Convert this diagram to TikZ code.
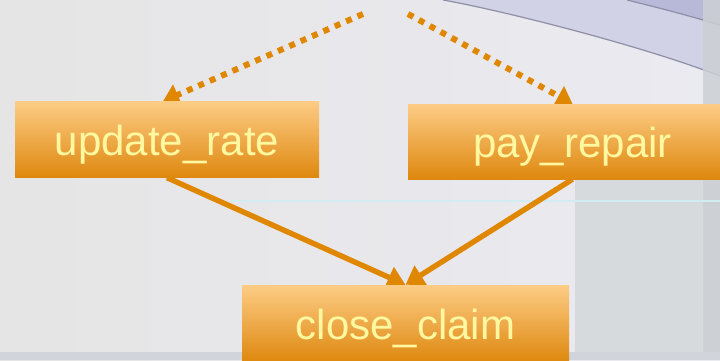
\documentclass[tikz,border=0pt]{standalone}
\usepackage{fontspec}
\setmainfont{Liberation Sans}
\usetikzlibrary{arrows.meta,calc}
\pgfdeclarelayer{bg}
\pgfdeclarelayer{mid}
\pgfsetlayers{bg,mid,main}
\definecolor{arrowc}{HTML}{E08700}
\definecolor{boxtop}{HTML}{FDCC85}
\definecolor{boxbot}{HTML}{DE880E}
\definecolor{txtc}{HTML}{FFF8A0}
\definecolor{bgl}{HTML}{E6E5E5}
\definecolor{bgr}{HTML}{EAEAF1}
\definecolor{lav}{HTML}{D2D2E6}
\definecolor{lavd}{HTML}{B8B8D9}
\definecolor{swline}{HTML}{8E8EA6}
\definecolor{panel}{HTML}{D7DADD}
\definecolor{strip}{HTML}{CCD0D4}
\definecolor{bottomstrip}{HTML}{D2D4DC}
\definecolor{cyanline}{HTML}{D3ECF1}
\tikzset{
  taskbox/.style={rectangle, draw=none, top color=boxtop, bottom color=boxbot,
    text=txtc, font=\fontsize{42}{42}\selectfont, inner sep=0pt,
    text height=43pt, text depth=12pt},
  solidarrow/.style={draw=arrowc, line width=5.4pt,
    -{Triangle[width=22pt,length=18pt]}},
  dotarrow/.style={draw=arrowc, line width=6pt, dash pattern=on 6pt off 6.4pt,
    -{Triangle[width=22pt,length=16pt]}}
}
\begin{document}
\begin{tikzpicture}[x=1pt,y=-1pt]
\useasboundingbox (0,0) rectangle (720,360);
% background
\begin{pgfonlayer}{bg}
  \shade[left color=bgl, right color=bgr] (0,0) rectangle (720,360);
  \fill[panel] (575,170) rectangle (720,360);
  \fill[lav] (443,0) .. controls (500,10) and (640,45) .. (720,76) -- (720,0) -- cycle;
  \fill[lavd] (627,0) .. controls (660,8) and (690,16) .. (720,25) -- (720,0) -- cycle;
  \draw[swline, line width=1.2pt] (443,0) .. controls (500,10) and (640,45) .. (720,76);
  \draw[swline, line width=1.2pt] (627,0) .. controls (660,8) and (690,16) .. (720,25);
  \fill[strip, opacity=0.85] (703,0) rectangle (720,360);
  \draw[cyanline, line width=2pt] (230,201) -- (720,201);
  \fill[bottomstrip] (0,352) rectangle (720,360);
\end{pgfonlayer}
% boxes
\node[taskbox, minimum width=304pt, minimum height=76pt] (ur) at (167,139.5) {update\_rate};
\node[taskbox, minimum width=329pt, minimum height=75pt] (pr) at (572.5,141.5) {pay\_repair};
\node[taskbox, minimum width=327pt, minimum height=77pt] (cc) at (405.5,323.5) {close\_claim};
% connectors
\coordinate (s1) at (363,14);
\coordinate (s2) at (408,14);
\begin{pgfonlayer}{mid}
  \draw[dotarrow] (s1) -- ([xshift=-4pt]ur.north);
  \draw[dotarrow] (s2) -- (pr.north);
  \draw[solidarrow] (ur.south) -- (cc.north);
  \draw[solidarrow] (pr.south) -- (cc.north);
\end{pgfonlayer}
\end{tikzpicture}
\end{document}
